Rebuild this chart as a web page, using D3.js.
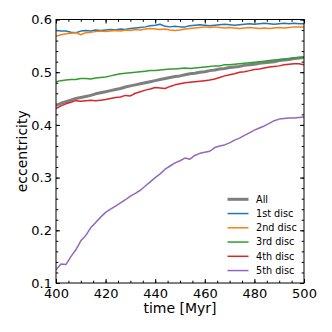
<!DOCTYPE html>
<html>
  <head>
    <meta charset="utf-8" />
    <title>Eccentricity vs time</title>
    <style>
      body {
        margin: 0;
        background: #fff;
      }
      text {
        font-family: "DejaVu Sans", sans-serif;
        fill: #000;
      }
      .tick line {
        stroke: #000;
      }
      .domain {
        display: none;
      }
    </style>
    <script src="https://d3js.org/d3.v7.min.js" charset="utf-8"></script>
  </head>
  <body>
    <script>
      const time = [
        400, 402, 404, 406, 408, 410, 412, 414, 416, 418, 420, 422, 424, 426,
        428, 430, 432, 434, 436, 438, 440, 442, 444, 446, 448, 450, 452, 454,
        456, 458, 460, 462, 464, 466, 468, 470, 472, 474, 476, 478, 480, 482,
        484, 486, 488, 490, 492, 494, 496, 498, 500,
      ];

      const eccAll = [
        0.437, 0.441, 0.444, 0.447, 0.45, 0.452, 0.454, 0.456, 0.459, 0.461,
        0.463, 0.465, 0.467, 0.469, 0.472, 0.474, 0.476, 0.478, 0.48, 0.482,
        0.484, 0.486, 0.488, 0.49, 0.492, 0.493, 0.495, 0.497, 0.498, 0.5,
        0.501, 0.503, 0.504, 0.506, 0.507, 0.509, 0.51, 0.511, 0.513, 0.514,
        0.515, 0.517, 0.518, 0.519, 0.52, 0.522, 0.523, 0.524, 0.526, 0.527,
        0.528,
      ];
      const ecc1 = [
        0.579, 0.578, 0.578, 0.576, 0.575, 0.578, 0.579, 0.578, 0.58, 0.579,
        0.58, 0.581, 0.58, 0.582, 0.581, 0.583, 0.584, 0.585, 0.586, 0.588,
        0.589, 0.591, 0.587, 0.586, 0.587, 0.586, 0.586, 0.588, 0.589, 0.59,
        0.589, 0.588, 0.589, 0.59, 0.591, 0.59, 0.589, 0.59, 0.591, 0.592,
        0.591, 0.592, 0.593, 0.592, 0.591, 0.592, 0.593, 0.592, 0.593, 0.592,
        0.592,
      ];
      const ecc2 = [
        0.568, 0.571, 0.573, 0.574, 0.575, 0.571, 0.575, 0.576, 0.577, 0.578,
        0.577, 0.578, 0.579, 0.578, 0.58, 0.579, 0.581, 0.58, 0.582, 0.583,
        0.582, 0.581, 0.582, 0.58, 0.579, 0.58, 0.582, 0.583, 0.584, 0.585,
        0.586, 0.585, 0.586, 0.585, 0.584, 0.585, 0.584, 0.583, 0.584, 0.585,
        0.584, 0.583, 0.584, 0.583, 0.584, 0.585, 0.584, 0.585, 0.586, 0.586,
        0.586,
      ];
      const ecc3 = [
        0.482, 0.484, 0.485, 0.486, 0.486, 0.488, 0.488, 0.487, 0.489, 0.49,
        0.491, 0.493, 0.495, 0.497, 0.498, 0.499, 0.5, 0.501, 0.502, 0.503,
        0.503, 0.504, 0.505, 0.506, 0.506, 0.507, 0.508, 0.507, 0.508, 0.509,
        0.51, 0.511, 0.512, 0.512, 0.514, 0.514, 0.515, 0.516, 0.517, 0.518,
        0.519, 0.52, 0.521, 0.522, 0.523, 0.524, 0.525, 0.526, 0.527, 0.528,
        0.529,
      ];
      const ecc4 = [
        0.431, 0.436, 0.44, 0.443, 0.446, 0.445, 0.446, 0.447, 0.446, 0.447,
        0.448, 0.45, 0.452, 0.453, 0.456, 0.455, 0.46, 0.463, 0.466, 0.468,
        0.471, 0.47, 0.469, 0.473, 0.476, 0.478, 0.48, 0.481, 0.482, 0.483,
        0.484, 0.485, 0.487, 0.49, 0.493, 0.495, 0.497, 0.5, 0.501, 0.503,
        0.505, 0.506, 0.508, 0.51, 0.511, 0.512, 0.514, 0.515, 0.516, 0.516,
        0.514,
      ];
      const ecc5 = [
        0.125, 0.136, 0.135, 0.15, 0.163, 0.18, 0.19, 0.205, 0.215, 0.225,
        0.234, 0.24, 0.246, 0.252, 0.258, 0.265, 0.27, 0.276, 0.284, 0.292,
        0.3, 0.307, 0.316, 0.322, 0.328, 0.332, 0.337, 0.335, 0.342, 0.346,
        0.348, 0.35, 0.357, 0.36, 0.362, 0.366, 0.371, 0.375, 0.38, 0.385,
        0.39, 0.394, 0.398, 0.403, 0.408, 0.411, 0.412, 0.413, 0.413, 0.414,
        0.415,
      ];

      const labels = ["All", "1st disc", "2nd disc", "3rd disc", "4th disc", "5th disc"];
      const colors = ["#7f7f7f", "#1f77b4", "#ff7f0e", "#2ca02c", "#d62728", "#9467bd"];
      const series = [eccAll, ecc1, ecc2, ecc3, ecc4, ecc5];

      const xTicks = [400, 420, 440, 460, 480, 500];
      const yTicks = [0.1, 0.2, 0.3, 0.4, 0.5, 0.6];

      const margin = { top: 19.5, right: 28, bottom: 49, left: 56 },
        W = 332,
        H = 332,
        width = W - margin.left - margin.right,
        height = H - margin.top - margin.bottom;

      const x = d3.scaleLinear().domain([400, 500]).range([0, width]);
      const y = d3.scaleLinear().domain([0.1, 0.6]).range([height, 0]);

      const svg = d3
        .select("body")
        .append("svg")
        .attr("width", W)
        .attr("height", H)
        .append("g")
        .attr("transform", "translate(" + margin.left + "," + margin.top + ")");

      svg
        .append("defs")
        .append("clipPath")
        .attr("id", "clip")
        .append("rect")
        .attr("width", width)
        .attr("height", height);

      const xMinor = d3.range(400, 501, 5);
      const yMinor = d3.range(0.1, 0.601, 0.02);

      // ticks point inwards on all four sides
      function addTicks(axisFn, scale, vals, size, labelled, transform) {
        const ax = axisFn(scale)
          .tickValues(vals)
          .tickSize(-size)
          .tickPadding(scale === x ? 5.5 : 4);
        if (labelled) {
          ax.tickFormat(scale === x ? d3.format("d") : d3.format(".1f"));
        } else {
          ax.tickFormat("");
        }
        svg
          .append("g")
          .attr("transform", transform)
          .call(ax)
          .selectAll("text")
          .style("font-size", "13px");
      }

      addTicks(d3.axisBottom, x, xMinor, 2.3, false, "translate(0," + height + ")");
      addTicks(d3.axisTop, x, xMinor, 2.3, false, "translate(0,0)");
      addTicks(d3.axisLeft, y, yMinor, 2.3, false, "translate(0,0)");
      addTicks(d3.axisRight, y, yMinor, 2.3, false, "translate(" + width + ",0)");
      addTicks(d3.axisBottom, x, xTicks, 4, true, "translate(0," + height + ")");
      addTicks(d3.axisTop, x, xTicks, 4, false, "translate(0,0)");
      addTicks(d3.axisLeft, y, yTicks, 4, true, "translate(0,0)");
      addTicks(d3.axisRight, y, yTicks, 4, false, "translate(" + width + ",0)");

      const line = d3
        .line()
        .x(function (d, i) {
          return x(time[i]);
        })
        .y(function (d) {
          return y(d);
        });

      svg
        .append("g")
        .attr("clip-path", "url(#clip)")
        .selectAll("path")
        .data(series)
        .join("path")
        .attr("fill", "none")
        .attr("stroke", function (d, i) {
          return colors[i];
        })
        .attr("stroke-width", function (d, i) {
          return i === 0 ? 3 : 1.5;
        })
        .attr("stroke-linejoin", "round")
        .attr("d", line);

      svg
        .append("rect")
        .attr("width", width)
        .attr("height", height)
        .attr("fill", "none")
        .attr("stroke", "#000")
        .attr("stroke-width", 1);

      const legend = svg
        .append("g")
        .attr("transform", "translate(" + (227.5 - margin.left) + "," + (199.3 - margin.top) + ")");

      const item = legend
        .selectAll("g")
        .data(labels)
        .join("g")
        .attr("transform", function (d, i) {
          return "translate(0," + i * 14.25 + ")";
        });

      item
        .append("line")
        .attr("x1", 0)
        .attr("x2", 21)
        .attr("stroke", function (d, i) {
          return colors[i];
        })
        .attr("stroke-width", function (d, i) {
          return i === 0 ? 3 : 1.5;
        });

      item
        .append("text")
        .attr("x", 28.5)
        .attr("dy", "0.35em")
        .style("font-size", "9.7px")
        .text(function (d) {
          return d;
        });

      svg
        .append("text")
        .attr("x", width / 2)
        .attr("y", height + 30)
        .attr("text-anchor", "middle")
        .style("font-size", "14px")
        .text("time [Myr]");

      svg
        .append("text")
        .attr("transform", "translate(" + -29.5 + "," + height / 2 + ")rotate(-90)")
        .attr("text-anchor", "middle")
        .style("font-size", "14px")
        .text("eccentricity");
    </script>
  </body>
</html>
